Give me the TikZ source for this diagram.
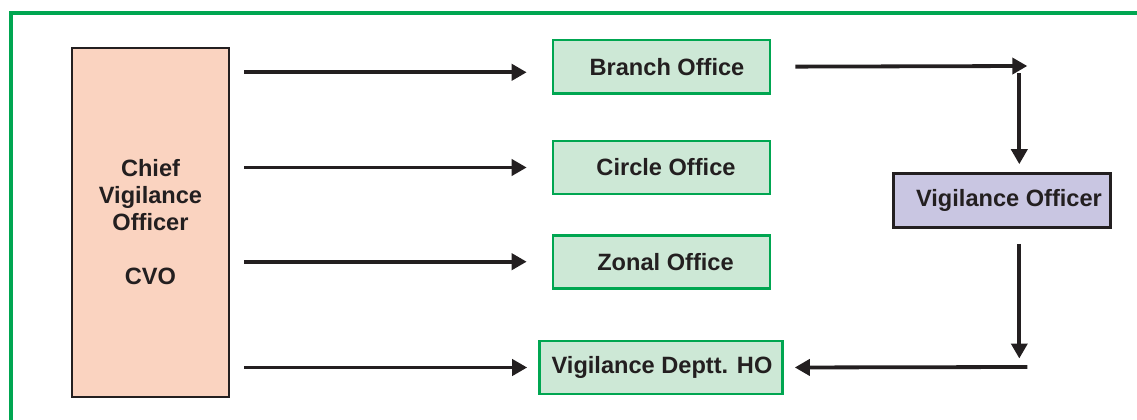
\documentclass[tikz,border=0pt]{standalone}
\usepackage{fontspec}
\setmainfont{Liberation Sans}
\usetikzlibrary{arrows.meta}
\definecolor{frame}{HTML}{00A651}
\definecolor{ink}{HTML}{231F20}
\definecolor{gfill}{HTML}{CDE8D6}
\definecolor{peach}{HTML}{FAD3C0}
\definecolor{lav}{HTML}{C9C6E2}
\tikzset{
  lbl/.style={font=\bfseries\fontsize{23.6}{27}\selectfont, text=ink},
  gbox/.style={lbl, draw=frame, line width=2.6pt, fill=gfill, inner sep=0pt, minimum width=217pt, minimum height=53pt},
  cvobox/.style={lbl, draw=ink, line width=2.3pt, fill=peach, inner sep=0pt, minimum width=157pt, minimum height=349pt, align=center},
  vobox/.style={lbl, draw=ink, line width=2.6pt, fill=lav, inner sep=0pt, minimum width=217pt, minimum height=54pt},
  arr/.style={draw=ink, line width=3.8pt, -{Triangle[length=15pt,width=16pt]}}
}
\begin{document}
\begin{tikzpicture}[x=1pt,y=-1pt]
\useasboundingbox (0,0) rectangle (1137,420);
\begin{scope}
\clip (0,0) rectangle (1137,420);
\draw[frame, line width=4.2pt] (11,430) -- (11,13) -- (1145,13);
\end{scope}
\node[cvobox] (cvo) at (150.5,222.5) {Chief\\Vigilance\\Officer\\[27pt]CVO};
\node[gbox] (branch) at (661.5,66.7) {\hspace*{11pt}Branch Office};
\node[gbox] (circle) at (661.5,167.5) {\hspace*{9pt}Circle Office};
\node[gbox] (zonal) at (661.5,261.7) {\hspace*{8pt}Zonal Office};
\node[gbox, minimum width=243pt] (vdho) at (661,367.5) {\hspace*{2pt}Vigilance Deptt. HO};
\node[vobox] (vo) at (1002,200.5) {\hspace*{14pt}Vigilance Officer};
\coordinate (b1) at ([yshift=-5.6pt,xshift=-25pt]branch.west);
\draw[arr, shorten <=14pt] (cvo.east |- b1) -- (b1);
\draw[arr, shorten <=14pt, shorten >=25pt] (cvo.east |- circle.west) -- (circle.west);
\draw[arr, shorten <=14pt, shorten >=25pt] (cvo.east |- zonal.west) -- (zonal.west);
\draw[arr, shorten <=14pt, shorten >=11pt] (cvo.east |- vdho.west) -- (vdho.west);
\coordinate (tr) at (1019.3,66);
\coordinate (br) at (1019.3,367);
\draw[arr, shorten <=24pt] (branch.east) -- ([xshift=8pt]tr);
\draw[arr, shorten >=8pt] ([yshift=-7pt]tr) -- (tr |- vo.north);
\draw[arr, shorten <=15pt, shorten >=8.5pt] (tr |- vo.south) -- (br);
\draw[arr, shorten >=11pt] ([xshift=8pt]br) -- (vdho.east);
\end{tikzpicture}
\end{document}
